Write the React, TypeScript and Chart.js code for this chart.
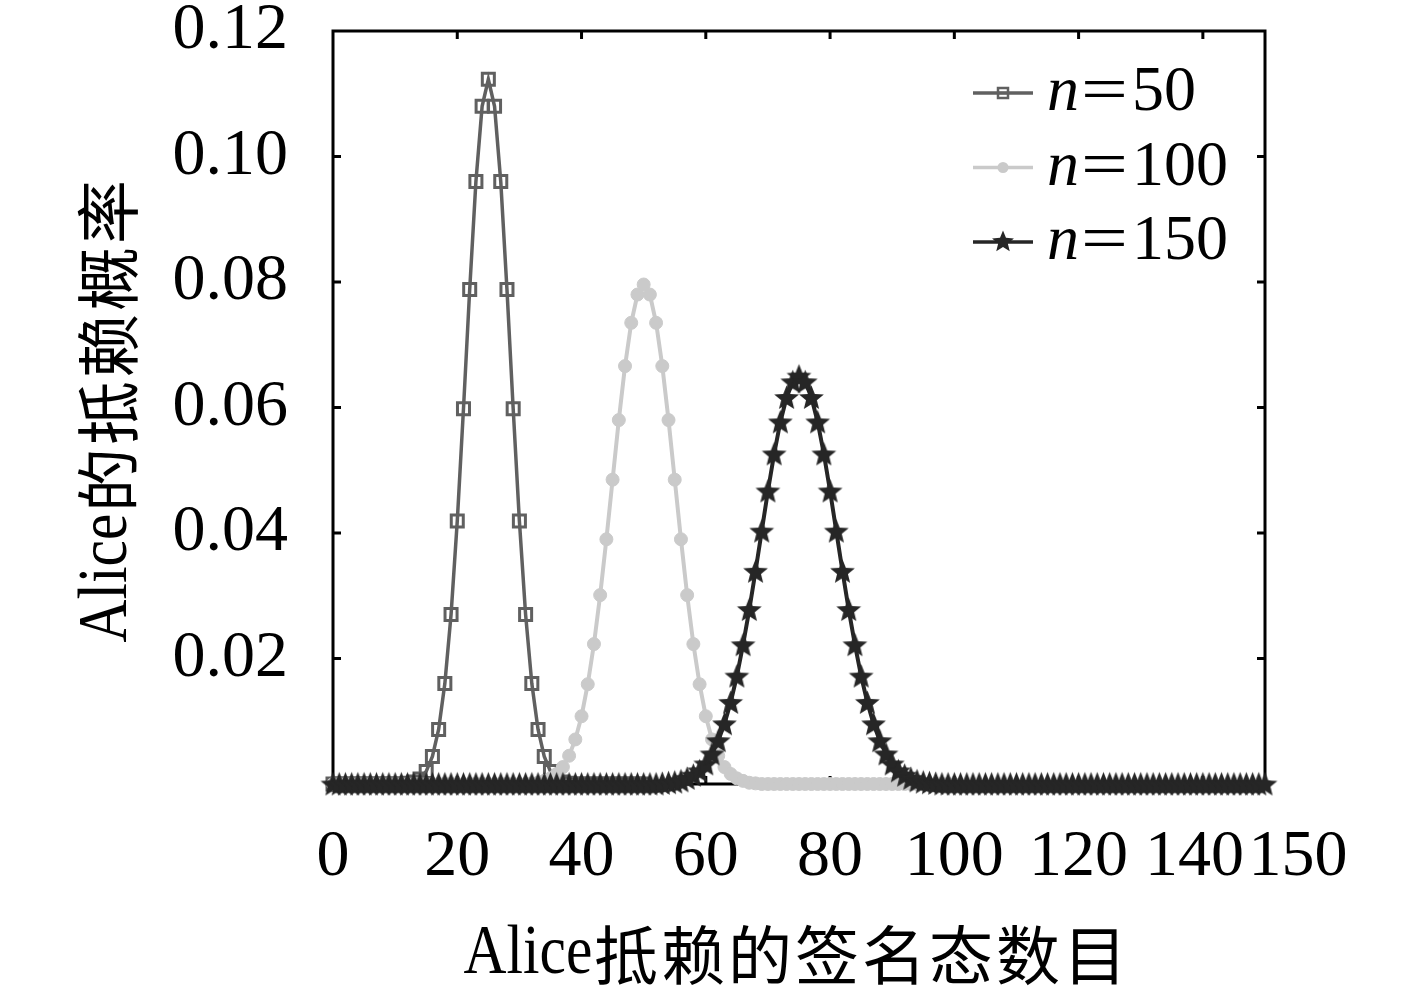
import React, { useEffect, useRef } from "react";
import { Chart, registerables } from "chart.js";

Chart.register(...registerables);

// ---------- data ----------
const xTickValues = [0, 20, 40, 60, 80, 100, 120, 140, 150];
const xTickLabels = ["0", "20", "40", "60", "80", "100", "120", "140", "150"];
const yTickValues = [0.02, 0.04, 0.06, 0.08, 0.1, 0.12];
const yTickLabels = ["0.02", "0.04", "0.06", "0.08", "0.10", "0.12"];
const seriesNames = ["n=50", "n=100", "n=150"];
const xTitleLatin = "Alice";
const xTitleCjk = "抵赖的签名态数目";
const yTitleLatin = "Alice";
const yTitleCjk = "的抵赖概率";

// probability per number of signatures (index = count), n = 50
const n50Values = [
  0, 0, 0, 0, 0, 0, 0, 0, 0, 0,
  0, 0,
  0.0001, 0.0003, 0.0008, 0.002, 0.0044, 0.0087, 0.016, 0.027, 0.0419, 0.0598,
  0.0788, 0.096, 0.108, 0.1123, 0.108, 0.096, 0.0788, 0.0598, 0.0419, 0.027,
  0.016, 0.0087, 0.0044, 0.002, 0.0008, 0.0003, 0.0001,
  0, 0, 0, 0, 0, 0, 0, 0, 0, 0,
  0, 0,
];

// n = 100
const n100Values = [
  0, 0, 0, 0, 0, 0, 0, 0, 0, 0,
  0, 0, 0, 0, 0, 0, 0, 0, 0, 0,
  0, 0, 0, 0, 0, 0, 0, 0, 0, 0,
  0, 0,
  0.0001, 0.0002, 0.0005, 0.0009, 0.0016, 0.0027, 0.0045, 0.0071, 0.0108, 0.0159,
  0.0223, 0.0301, 0.039, 0.0485, 0.058, 0.0666, 0.0735, 0.078, 0.0796, 0.078,
  0.0735, 0.0666, 0.058, 0.0485, 0.039, 0.0301, 0.0223, 0.0159, 0.0108, 0.0071,
  0.0045, 0.0027, 0.0016, 0.0009, 0.0005, 0.0002, 0.0001,
  0, 0, 0, 0, 0, 0, 0, 0, 0, 0,
  0, 0, 0, 0, 0, 0, 0, 0, 0, 0,
  0, 0, 0, 0, 0, 0, 0, 0, 0, 0,
  0, 0,
];

// n = 150
const n150Values = [
  0, 0, 0, 0, 0, 0, 0, 0, 0, 0,
  0, 0, 0, 0, 0, 0, 0, 0, 0, 0,
  0, 0, 0, 0, 0, 0, 0, 0, 0, 0,
  0, 0, 0, 0, 0, 0, 0, 0, 0, 0,
  0, 0, 0, 0, 0, 0, 0, 0, 0, 0,
  0, 0, 0,
  0.0001, 0.0002, 0.0003, 0.0005, 0.0009, 0.0014, 0.0021, 0.0032, 0.0048, 0.0069,
  0.0096, 0.013, 0.0172, 0.0222, 0.0278, 0.0339, 0.0403, 0.0467, 0.0526, 0.0577,
  0.0616, 0.0641, 0.065, 0.0641, 0.0616, 0.0577, 0.0526, 0.0467, 0.0403, 0.0339,
  0.0278, 0.0222, 0.0172, 0.013, 0.0096, 0.0069, 0.0048, 0.0032, 0.0021, 0.0014,
  0.0009, 0.0005, 0.0003, 0.0002, 0.0001,
  0, 0, 0, 0, 0, 0, 0, 0, 0, 0,
  0, 0, 0, 0, 0, 0, 0, 0, 0, 0,
  0, 0, 0, 0, 0, 0, 0, 0, 0, 0,
  0, 0, 0, 0, 0, 0, 0, 0, 0, 0,
  0, 0, 0, 0, 0, 0, 0, 0, 0, 0,
  0, 0, 0,
];

// ---------- styles ----------
const COLOR_50 = "#606060";
const COLOR_100 = "#cacaca";
const COLOR_150 = "#262626";
const SERIF = "'Liberation Serif', 'DejaVu Serif', serif";
const CJK = "'Noto Sans CJK SC', sans-serif";

function makeStar(size: number, color: string): HTMLCanvasElement {
  const c = document.createElement("canvas");
  c.width = size;
  c.height = size;
  const g = c.getContext("2d")!;
  const cx = size / 2;
  const cy = size / 2 + size * 0.04;
  const outer = size / 2 - 0.5;
  const inner = outer * 0.44;
  g.beginPath();
  for (let i = 0; i < 10; i++) {
    const r = i % 2 === 0 ? outer : inner;
    const ang = -Math.PI / 2 + (i * Math.PI) / 5;
    const px = cx + r * Math.cos(ang);
    const py = cy + r * Math.sin(ang);
    if (i === 0) g.moveTo(px, py);
    else g.lineTo(px, py);
  }
  g.closePath();
  g.fillStyle = color;
  g.fill();
  return c;
}

function drawMixed(
  ctx: CanvasRenderingContext2D,
  latin: string,
  cjk: string,
  latinSize: number,
  cjkSize: number,
  latinSx: number,
  cjkSpacing: number
) {
  // draws centred at (0,0), baseline middle
  ctx.textBaseline = "middle";
  ctx.textAlign = "left";
  ctx.font = `${latinSize}px ${SERIF}`;
  const lw = ctx.measureText(latin).width * latinSx;
  ctx.font = `${cjkSize}px ${CJK}`;
  const cw = ctx.measureText(cjk).width + cjkSpacing * cjk.length;
  const start = -(lw + cw) / 2;
  ctx.save();
  ctx.translate(start, 0);
  ctx.scale(latinSx, 1);
  ctx.font = `${latinSize}px ${SERIF}`;
  ctx.fillText(latin, 0, 0);
  ctx.restore();
  ctx.font = `${cjkSize}px ${CJK}`;
  let x = start + lw;
  for (const ch of cjk) {
    ctx.fillText(ch, x + cjkSpacing / 2, 0);
    x += ctx.measureText(ch).width + cjkSpacing;
  }
}

export default function App() {
  const ref = useRef<HTMLCanvasElement>(null);

  useEffect(() => {
    const canvas = ref.current!;
    const star = makeStar(27, COLOR_150);
    const legendStar = makeStar(24, COLOR_150);
    const X_MAX = 150;
    const Y_MAX = 0.12;

    const framePlugin = {
      id: "framePlugin",
      beforeDatasetsDraw(chart: any) {
        const { ctx, chartArea: a } = chart;
        const xs = chart.scales.x;
        const ys = chart.scales.y;
        ctx.save();
        ctx.strokeStyle = "#000";
        ctx.lineWidth = 3;
        ctx.strokeRect(a.left, a.top, a.right - a.left, a.bottom - a.top);
        ctx.beginPath();
        for (const v of yTickValues) {
          if (v >= Y_MAX) continue;
          const py = ys.getPixelForValue(v);
          ctx.moveTo(a.left, py);
          ctx.lineTo(a.left + 8, py);
          ctx.moveTo(a.right, py);
          ctx.lineTo(a.right - 8, py);
        }
        for (const v of xTickValues) {
          if (v <= 0 || v >= X_MAX) continue;
          const px = xs.getPixelForValue(v);
          ctx.moveTo(px, a.top);
          ctx.lineTo(px, a.top + 8);
          ctx.moveTo(px, a.bottom);
          ctx.lineTo(px, a.bottom - 8);
        }
        ctx.stroke();
        ctx.restore();
      },
      afterDraw(chart: any) {
        const { ctx, chartArea: a } = chart;
        ctx.save();
        ctx.fillStyle = "#000";
        // x title
        ctx.save();
        ctx.translate((a.left + a.right) / 2 - 3, 955);
        drawMixed(ctx, xTitleLatin, xTitleCjk, 70, 64, 0.85, 3);
        ctx.restore();
        // y title
        ctx.save();
        ctx.translate(108, (a.top + a.bottom) / 2 + 3);
        ctx.rotate(-Math.PI / 2);
        drawMixed(ctx, yTitleLatin, yTitleCjk, 70, 64, 0.85, 3);
        ctx.restore();

        // legend
        const colors = [COLOR_50, COLOR_100, COLOR_150];
        for (let i = 0; i < seriesNames.length; i++) {
          const ly = a.top + 62 + i * 74.5;
          const x0 = a.right - 292;
          const x1 = a.right - 232;
          const mx = (x0 + x1) / 2;
          ctx.strokeStyle = colors[i];
          ctx.lineWidth = 3.5;
          ctx.beginPath();
          ctx.moveTo(x0, ly);
          ctx.lineTo(x1, ly);
          ctx.stroke();
          if (i === 0) {
            ctx.fillStyle = "#fff";
            ctx.lineWidth = 2.5;
            ctx.strokeRect(mx - 5, ly - 5, 10, 10);
            ctx.beginPath();
            ctx.moveTo(mx - 5, ly);
            ctx.lineTo(mx + 5, ly);
            ctx.stroke();
          } else if (i === 1) {
            ctx.fillStyle = colors[i];
            ctx.beginPath();
            ctx.arc(mx, ly, 5.5, 0, Math.PI * 2);
            ctx.fill();
          } else {
            ctx.drawImage(legendStar, mx - 12, ly - 13, 24, 24);
          }
          const [sym, num] = seriesNames[i].split("=");
          const tx = a.right - 218;
          const base = ly + 17;
          ctx.fillStyle = "#000";
          ctx.textBaseline = "alphabetic";
          ctx.textAlign = "left";
          ctx.font = `italic 64px ${SERIF}`;
          ctx.fillText(sym, tx, base);
          ctx.save();
          ctx.translate(tx + 34, base);
          ctx.scale(1.3, 1);
          ctx.font = `64px ${SERIF}`;
          ctx.fillText("=", 0, 0);
          ctx.restore();
          ctx.font = `64px ${SERIF}`;
          ctx.fillText(num, tx + 85, base);
        }
        ctx.restore();
      },
    };

    const toPoints = (vals: number[]) => vals.map((y, i) => ({ x: i, y }));

    const chart = new Chart(canvas, {
      type: "line",
      data: {
        datasets: [
          {
            label: seriesNames[0],
            data: toPoints(n50Values),
            borderColor: COLOR_50,
            borderWidth: 3.5,
            pointStyle: "rect",
            pointRadius: 8.5,
            pointBorderWidth: 3,
            pointBorderColor: COLOR_50,
            pointBackgroundColor: "rgba(0,0,0,0)",
            fill: false,
            tension: 0,
            clip: false,
            order: 3,
          },
          {
            label: seriesNames[1],
            data: toPoints(n100Values),
            borderColor: COLOR_100,
            borderWidth: 4,
            pointStyle: "circle",
            pointRadius: 6.5,
            pointBorderWidth: 1,
            pointBorderColor: COLOR_100,
            pointBackgroundColor: COLOR_100,
            fill: false,
            tension: 0,
            clip: false,
            order: 2,
          },
          {
            label: seriesNames[2],
            data: toPoints(n150Values),
            borderColor: COLOR_150,
            borderWidth: 4,
            pointStyle: star,
            pointRadius: 13,
            pointBorderWidth: 0,
            fill: false,
            tension: 0,
            clip: false,
            order: 1,
          },
        ] as any,
      },
      options: {
        animation: false,
        responsive: false,
        events: [],
        layout: { padding: { top: 31, right: 152, left: 0, bottom: 0 } },
        plugins: {
          legend: { display: false },
          tooltip: { enabled: false },
          title: { display: false },
        },
        scales: {
          x: {
            type: "linear",
            min: 0,
            max: X_MAX,
            grid: { display: false, drawTicks: false },
            border: { display: false },
            afterBuildTicks: (scale: any) => {
              scale.ticks = xTickValues.map((v) => ({ value: v }));
            },
            afterFit: (scale: any) => {
              scale.height = 206;
              scale.paddingLeft = 0;
              scale.paddingRight = 0;
            },
            ticks: {
              autoSkip: false,
              maxRotation: 0,
              minRotation: 0,
              padding: 34,
              color: "#000",
              font: { family: SERIF, size: 66 },
              callback: (value: any) => {
                const idx = xTickValues.indexOf(Number(value));
                const label = idx >= 0 ? xTickLabels[idx] : "";
                if (Number(value) === 150) return "    " + label;
                if (Number(value) === 140) return label + " ";
                return label;
              },
            },
          },
          y: {
            type: "linear",
            min: 0,
            max: Y_MAX,
            grid: { display: false, drawTicks: false },
            border: { display: false },
            afterBuildTicks: (scale: any) => {
              scale.ticks = yTickValues.map((v) => ({ value: v }));
            },
            afterFit: (scale: any) => {
              scale.width = 333;
              scale.paddingTop = 0;
              scale.paddingBottom = 0;
            },
            ticks: {
              autoSkip: false,
              padding: 45,
              color: "#000",
              font: { family: SERIF, size: 66 },
              callback: (value: any) => {
                const idx = yTickValues.findIndex((v) => Math.abs(v - Number(value)) < 1e-9);
                return idx >= 0 ? yTickLabels[idx] : "";
              },
            },
          },
        },
      },
      plugins: [framePlugin],
    } as any);

    return () => chart.destroy();
  }, []);

  return (
    <canvas
      ref={ref}
      width={1417}
      height={990}
      style={{ position: "fixed", left: 0, top: 0, width: 1417, height: 990, display: "block" }}
    />
  );
}
